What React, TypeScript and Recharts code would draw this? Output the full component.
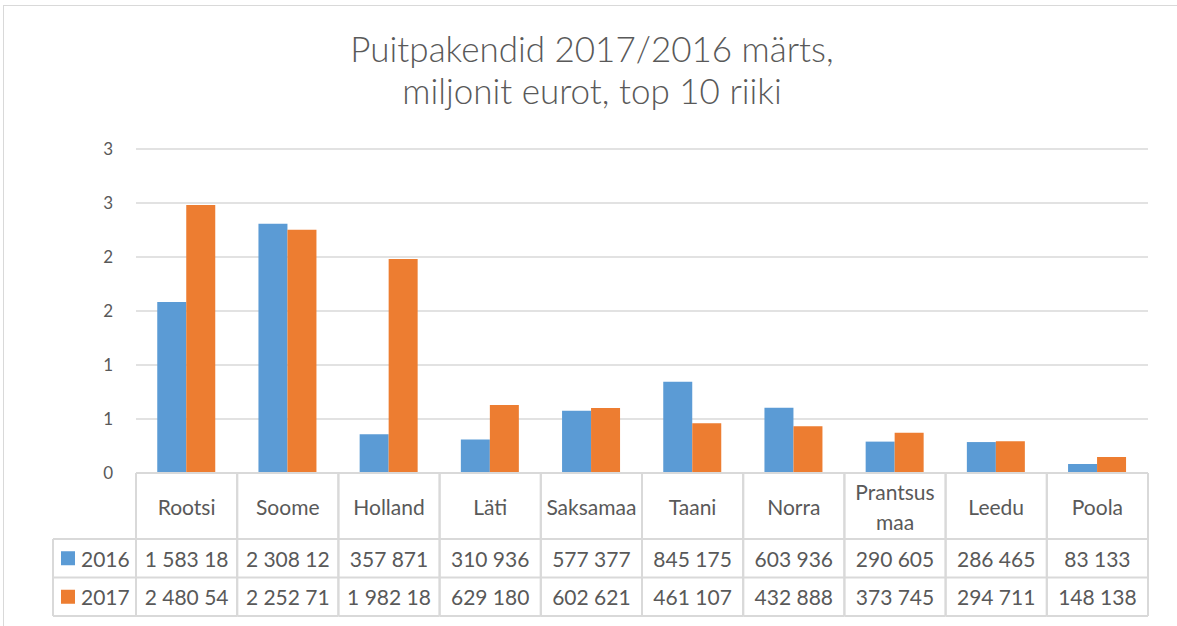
import { BarChart, Bar, XAxis, YAxis, CartesianGrid } from "recharts";

const categories = ["Rootsi", "Soome", "Holland", "Läti", "Saksamaa", "Taani", "Norra", "Prantsus maa", "Leedu", "Poola"];
const values2016 = [1.58318, 2.30812, 0.357871, 0.310936, 0.577377, 0.845175, 0.603936, 0.290605, 0.286465, 0.083133];
const values2017 = [2.48054, 2.25271, 1.98218, 0.62918, 0.602621, 0.461107, 0.432888, 0.373745, 0.294711, 0.148138];
const labels2016 = ["1 583 18", "2 308 12", "357 871", "310 936", "577 377", "845 175", "603 936", "290 605", "286 465", "83 133"];
const labels2017 = ["2 480 54", "2 252 71", "1 982 18", "629 180", "602 621", "461 107", "432 888", "373 745", "294 711", "148 138"];
const yTicks = [0, 0.5, 1, 1.5, 2, 2.5, 3];
const titleLines = ["Puitpakendid 2017/2016 märts,", "miljonit eurot, top 10 riiki"];

const BLUE = "#5B9BD5";
const ORANGE = "#ED7D31";
const GRID = "#D9D9D9";
const TEXT = "#595959";
const FONT = "Lato, 'Open Sans', sans-serif";

const data = categories.map((c, i) => ({ name: c, y2016: values2016[i], y2017: values2017[i] }));

const HEADER_H = 66;
const ROW_H = 38.5;
const LEGEND_W = 83;
const CELL_FONT = 21;

function TableTick(props: any) {
  const { x, y, payload, width } = props;
  const i = categories.indexOf(payload.value);
  const bw = (width || 1012) / categories.length;
  const left = x - bw / 2;
  const right = x + bw / 2;
  const r1 = y + HEADER_H;
  const r2 = r1 + ROW_H;
  const r3 = r2 + ROW_H;
  const words = payload.value === "Prantsus maa" ? ["Prantsus", "maa"] : [payload.value];
  const txt = { fontSize: CELL_FONT, fill: TEXT, fontFamily: FONT, dominantBaseline: "central" as const };
  return (
    <g>
      <line x1={left} x2={left} y1={y} y2={r3} stroke={GRID} strokeWidth={2} />
      <line x1={right} x2={right} y1={y} y2={r3} stroke={GRID} strokeWidth={2} />
      <line x1={left} x2={right} y1={r1} y2={r1} stroke={GRID} strokeWidth={2} />
      <line x1={left} x2={right} y1={r2} y2={r2} stroke={GRID} strokeWidth={2} />
      <line x1={left} x2={right} y1={r3} y2={r3} stroke={GRID} strokeWidth={2} />
      {words.map((w: string, k: number) => (
        <text key={k} x={x} y={y + HEADER_H / 2 + (k - (words.length - 1) / 2) * 30} textAnchor="middle" {...txt}>
          {w}
        </text>
      ))}
      <text x={x} y={r1 + ROW_H / 2} textAnchor="middle" {...txt}>
        {labels2016[i]}
      </text>
      <text x={x} y={r2 + ROW_H / 2} textAnchor="middle" {...txt}>
        {labels2017[i]}
      </text>
      {i === 0 && (
        <g>
          <line x1={left - LEGEND_W} x2={left} y1={r1} y2={r1} stroke={GRID} strokeWidth={2} />
          <line x1={left - LEGEND_W} x2={left} y1={r2} y2={r2} stroke={GRID} strokeWidth={2} />
          <line x1={left - LEGEND_W} x2={left} y1={r3} y2={r3} stroke={GRID} strokeWidth={2} />
          <line x1={left - LEGEND_W} x2={left - LEGEND_W} y1={r1} y2={r3} stroke={GRID} strokeWidth={2} />
          <rect x={left - LEGEND_W + 8} y={r1 + ROW_H / 2 - 7} width={14} height={14} fill={BLUE} />
          <text x={left - LEGEND_W + 28} y={r1 + ROW_H / 2} {...txt}>
            2016
          </text>
          <rect x={left - LEGEND_W + 8} y={r2 + ROW_H / 2 - 7} width={14} height={14} fill={ORANGE} />
          <text x={left - LEGEND_W + 28} y={r2 + ROW_H / 2} {...txt}>
            2017
          </text>
        </g>
      )}
    </g>
  );
}

export default function App() {
  return (
    <div style={{ position: "absolute", left: 0, top: 0, width: 1177, height: 626, overflow: "hidden", background: "#fff" }}>
      <div style={{ position: "absolute", left: 3, top: 5, width: 1300, height: 800, border: `1px solid ${GRID}` }} />
      <div
        style={{
          position: "absolute",
          left: 0,
          top: 27,
          width: 1184,
          textAlign: "center",
          fontFamily: FONT,
          fontWeight: 300,
          fontSize: 35,
          lineHeight: "42px",
          color: TEXT,
        }}
      >
        {titleLines.map((t) => (
          <div key={t}>{t}</div>
        ))}
      </div>
      <div style={{ position: "absolute", left: 0, top: 0 }}>
        <BarChart
          width={1177}
          height={626}
          data={data}
          margin={{ top: 149, right: 29, left: 46, bottom: 0 }}
          barGap={0}
          barCategoryGap="21%"
        >
          <CartesianGrid stroke={GRID} strokeWidth={1.5} vertical={false} />
          <XAxis
            dataKey="name"
            height={153}
            tickSize={0}
            tickMargin={0}
            tickLine={false}
            axisLine={{ stroke: GRID, strokeWidth: 2 }}
            interval={0}
            tick={<TableTick />}
          />
          <YAxis
            width={90}
            domain={[0, 3]}
            ticks={yTicks}
            tickFormatter={(v: number) => String(Math.round(v))}
            tickSize={0}
            tickMargin={23}
            tickLine={false}
            axisLine={false}
            tick={{ fontSize: 17, fill: TEXT, fontFamily: FONT }}
          />
          <Bar dataKey="y2016" name="2016" fill={BLUE} isAnimationActive={false} />
          <Bar dataKey="y2017" name="2017" fill={ORANGE} isAnimationActive={false} />
        </BarChart>
      </div>
    </div>
  );
}
